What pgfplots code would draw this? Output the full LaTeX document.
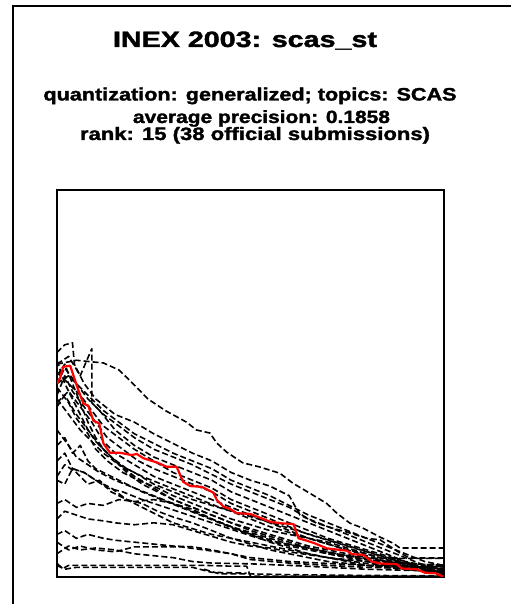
\documentclass[border=0pt]{standalone}
\usepackage{fontspec}
\setmainfont{Liberation Sans}
\newfontfamily\heavy{Liberation Sans Bold}[FakeBold=1.6]
\usepackage{graphicx}
\usepackage{pgfplots}
\pgfplotsset{compat=1.18}
\begin{document}
\begin{tikzpicture}[x=1bp,y=1bp]
\path[use as bounding box] (0,0) rectangle (511,604);
\draw[line width=2bp] (13,-5) -- (13,598) -- (520,598);
\node[anchor=base,inner sep=0pt] at (245,557) {\resizebox{264bp}{15.5bp}{\heavy INEX 2003: scas\_st}};
\node[anchor=base,inner sep=0pt] at (250,503.5) {\resizebox{413bp}{13bp}{\heavy quantization: generalized; topics: SCAS}};
\node[anchor=base,inner sep=0pt] at (261.5,481) {\resizebox{257bp}{12.8bp}{\heavy average precision: 0.1858}};
\node[anchor=base,inner sep=0pt] at (255,464) {\resizebox{350bp}{13bp}{\heavy rank: 15 (38 official submissions)}};
\begin{axis}[at={(57bp,27bp)},anchor=south west,
  width=387bp,height=387bp,scale only axis,
  xmin=0,xmax=1,ymin=0,ymax=1,
  xtick=\empty,ytick=\empty,
  axis line style={line width=1.8bp},
  d/.style={black,line width=1.6bp,dash pattern=on 6bp off 3bp,line join=round}]
% upper group
\addplot[d] coordinates {(0,0.55)(0.05,0.56)(0.12,0.553)(0.16,0.535)(0.2,0.496)(0.235,0.46)(0.28,0.43)(0.335,0.40)(0.36,0.38)(0.395,0.372)(0.413,0.346)(0.438,0.323)(0.48,0.295)(0.525,0.284)(0.576,0.268)(0.61,0.242)(0.654,0.216)(0.697,0.19)(0.723,0.165)(0.757,0.139)(0.791,0.126)(0.835,0.103)(0.869,0.087)(0.886,0.075)(1,0.075)};
\addplot[d] coordinates {(0,0.58)(0.02,0.6)(0.04,0.605)(0.045,0.55)(0.07,0.5)(0.1,0.46)(0.15,0.42)(0.2,0.40)(0.25,0.37)(0.3,0.345)(0.35,0.32)(0.4,0.3)(0.45,0.27)(0.5,0.25)(0.55,0.235)(0.6,0.21)(0.628,0.16)(0.671,0.139)(0.713,0.126)(0.749,0.116)(0.8,0.1)(0.835,0.096)(0.886,0.062)(0.912,0.049)(1,0.049)};
\addplot[d] coordinates {(0,0.55)(0.03,0.57)(0.06,0.52)(0.09,0.59)(0.09,0.45)(0.12,0.42)(0.16,0.39)(0.2,0.36)(0.25,0.33)(0.3,0.31)(0.35,0.29)(0.4,0.265)(0.45,0.24)(0.5,0.22)(0.55,0.2)(0.6,0.18)(0.65,0.15)(0.7,0.13)(0.75,0.11)(0.8,0.09)(0.85,0.07)(0.9,0.05)(0.95,0.03)(1,0.026)};
\addplot[d] coordinates {(0,0.5)(0.02,0.54)(0.05,0.5)(0.08,0.46)(0.11,0.43)(0.15,0.38)(0.2,0.34)(0.25,0.31)(0.3,0.29)(0.35,0.27)(0.4,0.25)(0.45,0.22)(0.5,0.2)(0.55,0.18)(0.6,0.16)(0.65,0.14)(0.7,0.12)(0.75,0.1)(0.8,0.08)(0.85,0.06)(0.9,0.04)(0.95,0.03)(1,0.012)};
\addplot[d] coordinates {(0,0.53)(0.03,0.5)(0.06,0.47)(0.09,0.43)(0.12,0.39)(0.16,0.36)(0.2,0.33)(0.25,0.3)(0.3,0.27)(0.35,0.25)(0.4,0.23)(0.45,0.2)(0.5,0.18)(0.55,0.16)(0.6,0.14)(0.65,0.12)(0.7,0.1)(0.75,0.085)(0.8,0.07)(0.85,0.055)(0.9,0.04)(0.95,0.02)(1,0.01)};
\addplot[d] coordinates {(0,0.47)(0.02,0.52)(0.04,0.48)(0.07,0.44)(0.1,0.4)(0.13,0.36)(0.17,0.33)(0.21,0.3)(0.25,0.28)(0.3,0.26)(0.35,0.24)(0.4,0.22)(0.45,0.19)(0.5,0.17)(0.55,0.15)(0.6,0.13)(0.65,0.11)(0.7,0.095)(0.75,0.08)(0.8,0.065)(0.85,0.05)(0.9,0.035)(0.95,0.02)(1,0.008)};
\addplot[d] coordinates {(0,0.45)(0.03,0.48)(0.06,0.44)(0.09,0.4)(0.12,0.35)(0.15,0.32)(0.2,0.29)(0.25,0.26)(0.3,0.24)(0.35,0.22)(0.4,0.2)(0.45,0.18)(0.5,0.16)(0.55,0.14)(0.6,0.12)(0.65,0.1)(0.7,0.085)(0.75,0.07)(0.8,0.06)(0.85,0.045)(0.9,0.03)(0.95,0.015)(1,0.005)};
\addplot[d] coordinates {(0,0.56)(0.02,0.5)(0.04,0.46)(0.06,0.42)(0.08,0.38)(0.1,0.35)(0.14,0.31)(0.18,0.28)(0.22,0.26)(0.27,0.24)(0.32,0.22)(0.37,0.2)(0.42,0.18)(0.47,0.165)(0.52,0.15)(0.57,0.135)(0.62,0.12)(0.67,0.105)(0.72,0.09)(0.77,0.075)(0.82,0.06)(0.87,0.045)(0.92,0.03)(1,0.015)};
\addplot[d] coordinates {(0,0.49)(0.03,0.45)(0.05,0.41)(0.08,0.37)(0.1,0.33)(0.13,0.3)(0.17,0.27)(0.21,0.25)(0.26,0.23)(0.3,0.21)(0.35,0.19)(0.4,0.17)(0.45,0.15)(0.5,0.135)(0.55,0.12)(0.6,0.11)(0.65,0.1)(0.7,0.09)(0.75,0.075)(0.8,0.06)(0.85,0.045)(0.9,0.035)(1,0.02)};
\addplot[d] coordinates {(0,0.44)(0.02,0.47)(0.05,0.42)(0.08,0.38)(0.11,0.34)(0.15,0.3)(0.2,0.26)(0.25,0.23)(0.3,0.2)(0.35,0.18)(0.4,0.16)(0.45,0.14)(0.5,0.125)(0.55,0.11)(0.6,0.095)(0.65,0.08)(0.7,0.07)(0.75,0.06)(0.8,0.05)(0.85,0.04)(0.9,0.03)(1,0.015)};
\addplot[d] coordinates {(0,0.52)(0.02,0.55)(0.04,0.5)(0.06,0.45)(0.08,0.4)(0.1,0.36)(0.12,0.33)(0.15,0.3)(0.18,0.27)(0.22,0.24)(0.26,0.22)(0.3,0.2)(0.35,0.18)(0.4,0.16)(0.45,0.14)(0.5,0.12)(0.55,0.105)(0.6,0.09)(0.65,0.075)(0.7,0.06)(0.75,0.05)(0.8,0.04)(0.85,0.03)(0.9,0.02)(1,0.01)};
\addplot[d] coordinates {(0,0.5)(0.03,0.52)(0.06,0.49)(0.09,0.46)(0.12,0.43)(0.16,0.4)(0.2,0.37)(0.25,0.345)(0.3,0.32)(0.35,0.3)(0.4,0.28)(0.45,0.25)(0.5,0.23)(0.55,0.21)(0.6,0.185)(0.65,0.16)(0.7,0.14)(0.75,0.12)(0.8,0.1)(0.85,0.08)(0.9,0.06)(0.95,0.04)(1,0.03)};
\addplot[d] coordinates {(0,0.46)(0.03,0.42)(0.06,0.38)(0.09,0.35)(0.12,0.32)(0.16,0.29)(0.2,0.27)(0.25,0.24)(0.3,0.22)(0.35,0.2)(0.4,0.185)(0.45,0.17)(0.5,0.15)(0.55,0.13)(0.6,0.115)(0.65,0.1)(0.7,0.085)(0.75,0.07)(0.8,0.055)(0.85,0.04)(0.9,0.026)(1,0.026)};
% middle group
\addplot[d] coordinates {(0,0.34)(0.02,0.36)(0.04,0.32)(0.06,0.34)(0.08,0.3)(0.1,0.28)(0.14,0.26)(0.18,0.24)(0.22,0.22)(0.27,0.2)(0.32,0.18)(0.37,0.16)(0.42,0.14)(0.47,0.12)(0.52,0.105)(0.57,0.09)(0.62,0.08)(0.67,0.07)(0.72,0.06)(0.8,0.048)(1,0.048)};
\addplot[d] coordinates {(0,0.38)(0.03,0.34)(0.05,0.31)(0.08,0.29)(0.11,0.27)(0.15,0.25)(0.2,0.23)(0.25,0.21)(0.3,0.19)(0.35,0.17)(0.4,0.15)(0.45,0.13)(0.5,0.115)(0.55,0.1)(0.6,0.085)(0.65,0.075)(0.7,0.065)(0.75,0.055)(0.8,0.045)(0.85,0.035)(0.9,0.02)(1,0.013)};
\addplot[d] coordinates {(0,0.3)(0.02,0.32)(0.04,0.28)(0.07,0.27)(0.1,0.25)(0.14,0.23)(0.18,0.2)(0.22,0.18)(0.26,0.16)(0.3,0.14)(0.35,0.125)(0.4,0.11)(0.45,0.1)(0.5,0.09)(0.55,0.08)(0.6,0.07)(0.65,0.06)(0.7,0.05)(0.75,0.04)(0.8,0.03)(0.9,0.02)(1,0.013)};
\addplot[d] coordinates {(0,0.26)(0.02,0.29)(0.05,0.27)(0.08,0.24)(0.11,0.25)(0.14,0.22)(0.18,0.2)(0.22,0.19)(0.26,0.17)(0.3,0.155)(0.35,0.14)(0.4,0.12)(0.45,0.1)(0.5,0.085)(0.55,0.07)(0.6,0.06)(0.65,0.05)(0.7,0.04)(0.8,0.03)(1,0.026)};
\addplot[d] coordinates {(0,0.25)(0.02,0.24)(0.04,0.28)(0.07,0.27)(0.1,0.25)(0.13,0.23)(0.17,0.22)(0.22,0.2)(0.28,0.18)(0.34,0.16)(0.4,0.14)(0.46,0.12)(0.52,0.1)(0.6,0.08)(0.7,0.06)(0.8,0.045)(0.9,0.035)(1,0.03)};
% low group
\addplot[d] coordinates {(0,0.19)(0.02,0.2)(0.05,0.18)(0.08,0.19)(0.12,0.185)(0.16,0.2)(0.2,0.195)(0.25,0.2)(0.3,0.19)(0.35,0.175)(0.4,0.15)(0.45,0.13)(0.5,0.11)(0.55,0.09)(0.6,0.075)(0.65,0.06)(0.7,0.05)(0.8,0.04)(1,0.03)};
\addplot[d] coordinates {(0,0.15)(0.02,0.17)(0.05,0.16)(0.08,0.15)(0.12,0.145)(0.15,0.14)(0.2,0.135)(0.25,0.14)(0.3,0.135)(0.35,0.12)(0.4,0.105)(0.45,0.09)(0.5,0.08)(0.55,0.075)(0.6,0.065)(0.7,0.05)(0.8,0.035)(1,0.02)};
\addplot[d] coordinates {(0,0.11)(0.02,0.12)(0.05,0.1)(0.08,0.11)(0.12,0.1)(0.15,0.095)(0.2,0.09)(0.25,0.085)(0.3,0.08)(0.35,0.078)(0.4,0.07)(0.45,0.06)(0.5,0.05)(0.6,0.04)(0.7,0.035)(0.8,0.03)(1,0.02)};
\addplot[d] coordinates {(0,0.09)(0.03,0.07)(0.06,0.08)(0.1,0.07)(0.15,0.065)(0.2,0.078)(0.25,0.078)(0.32,0.078)(0.38,0.07)(0.45,0.06)(0.5,0.045)(0.6,0.036)(0.7,0.03)(0.8,0.025)(1,0.02)};
\addplot[d] coordinates {(0,0.06)(0.03,0.08)(0.06,0.07)(0.1,0.075)(0.15,0.07)(0.2,0.06)(0.25,0.055)(0.3,0.05)(0.35,0.04)(0.4,0.036)(0.5,0.034)(0.6,0.03)(0.8,0.02)(1,0.015)};
\addplot[d] coordinates {(0,0.035)(0.015,0.022)(0.03,0.03)(0.1,0.03)(0.2,0.03)(0.3,0.03)(0.38,0.03)(0.45,0.028)(0.49,0.028)(0.5,0.002)(1,0.002)};
\addplot[d] coordinates {(0,0.03)(0.02,0.02)(0.05,0.025)(0.15,0.025)(0.25,0.025)(0.35,0.025)(0.4,0.012)(0.49,0.01)};
\addplot[d] coordinates {(0.38,0.02)(0.42,0.008)(0.5,0.008)(0.6,0.006)(0.8,0.004)(1,0.003)};
% highlighted run
\addplot[red,line width=2.2bp,solid,line join=round] coordinates {(0,0.50)(0.008,0.514)(0.016,0.543)(0.034,0.546)(0.055,0.483)(0.068,0.449)(0.081,0.442)(0.094,0.404)(0.109,0.397)(0.12,0.345)(0.137,0.321)(0.163,0.321)(0.193,0.315)(0.206,0.318)(0.223,0.307)(0.258,0.296)(0.283,0.285)(0.309,0.285)(0.326,0.246)(0.344,0.235)(0.374,0.233)(0.404,0.218)(0.413,0.199)(0.43,0.182)(0.447,0.176)(0.464,0.165)(0.499,0.163)(0.525,0.153)(0.55,0.143)(0.576,0.139)(0.611,0.137)(0.624,0.1)(0.645,0.094)(0.666,0.087)(0.697,0.074)(0.749,0.068)(0.762,0.059)(0.792,0.057)(0.813,0.040)(0.835,0.035)(0.878,0.033)(0.891,0.022)(0.929,0.020)(0.951,0.011)(0.977,0.01)(0.998,0.001)};
\end{axis}
\end{tikzpicture}
\end{document}
